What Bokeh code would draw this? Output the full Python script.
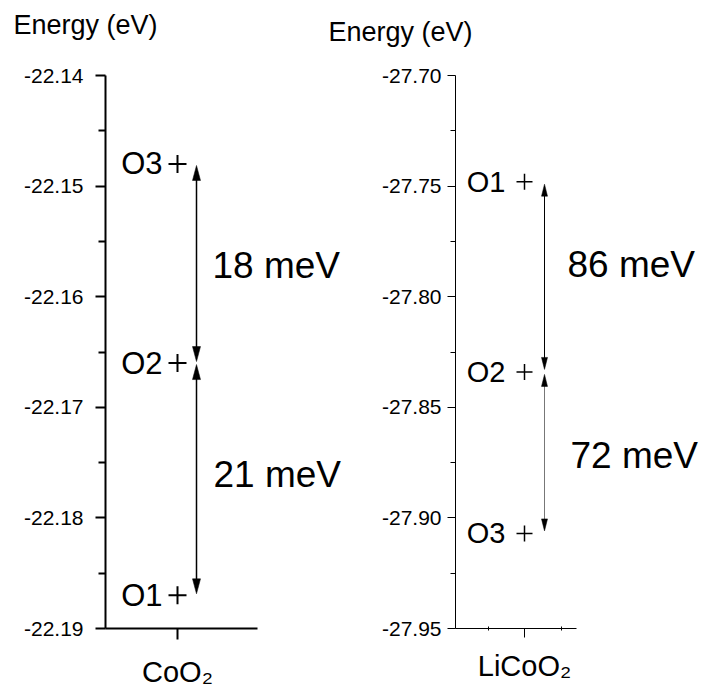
from bokeh.plotting import figure
from bokeh.models import FixedTicker, Range1d, PrintfTickFormatter
from bokeh.layouts import row, column
from bokeh.embed import file_html
from bokeh.resources import INLINE
from bokeh.core.properties import value

FONT = "Liberation Sans"

# ---------------- data ----------------
y_title = "Energy (eV)"
compounds = ["CoO\u2082", "LiCoO\u2082"]

names_coo2 = ["O3", "O2", "O1"]
levels_coo2 = [-22.148, -22.166, -22.187]
gaps_coo2 = ["18 meV", "21 meV"]
yticks_coo2 = [-22.19, -22.18, -22.17, -22.16, -22.15, -22.14]
yminor_coo2 = [-22.185, -22.175, -22.165, -22.155, -22.145]

names_licoo2 = ["O1", "O2", "O3"]
levels_licoo2 = [-27.748, -27.834, -27.907]
gaps_licoo2 = ["86 meV", "72 meV"]
yticks_licoo2 = [-27.95, -27.90, -27.85, -27.80, -27.75, -27.70]
yminor_licoo2 = [-27.925, -27.875, -27.825, -27.775, -27.725]

TOTAL_H = 690
STRIP_H = 48          # height of the strip that holds the axis titles
FRAME_BOTTOM = 628    # page row of the x axis
AXIS_TOP = 75         # page row of the highest y tick
H = TOTAL_H - STRIP_H


def title_strip(width, offset, standoff):
    t = figure(width=width, height=STRIP_H, output_backend="svg",
               toolbar_location=None, x_axis_type=None, y_axis_type=None,
               min_border_left=0, min_border_right=0,
               min_border_top=STRIP_H - 1, min_border_bottom=0)
    t.outline_line_color = None
    t.xgrid.visible = False
    t.ygrid.visible = False
    t.title.text = y_title
    t.title.align = "left"
    t.title.vertical_align = "bottom"
    t.title.offset = offset
    t.title.standoff = standoff
    t.title.text_font = FONT
    t.title.text_font_size = "27px"
    t.title.text_font_style = "normal"
    t.title.text_color = "black"
    return t


def panel(label, names, levels, gaps, yticks, yminor, st):
    W = st["W"]
    fl = st["frame_left"] - st["origin"]       # frame left inside figure
    kx = st["kx"]
    ky = (FRAME_BOTTOM - AXIS_TOP) / (yticks[-1] - yticks[0])
    px = lambda v: v / kx
    py = lambda v: v / ky

    x0r = 1 - px(st["cat_px"] - st["frame_left"])
    x1r = x0r + px(W - fl)
    y0r = yticks[0]
    y1r = y0r + py(FRAME_BOTTOM - STRIP_H)

    p = figure(width=W, height=H, output_backend="svg", toolbar_location=None,
               title=None,
               x_range=Range1d(x0r, x1r), y_range=Range1d(y0r, y1r),
               min_border_left=fl, min_border_right=0,
               min_border_top=0, min_border_bottom=TOTAL_H - FRAME_BOTTOM)
    p.outline_line_color = None
    p.xgrid.visible = False
    p.ygrid.visible = False

    lw = st["lw"]
    # y axis
    ya = p.yaxis[0]
    ya.bounds = (yticks[0], yticks[-1])
    ya.ticker = FixedTicker(ticks=yticks, minor_ticks=yminor)
    ya.formatter = PrintfTickFormatter(format="%.2f")
    ya.axis_line_width = lw
    ya.major_tick_line_width = lw
    ya.minor_tick_line_width = lw
    ya.major_tick_out = st["tick"]
    ya.major_tick_in = 0
    ya.minor_tick_out = st["mtick"]
    ya.minor_tick_in = 0
    ya.major_label_text_font = FONT
    ya.major_label_text_font_size = "21px"
    ya.major_label_text_color = "black"
    ya.major_label_standoff = st["standoff"]

    # x axis
    xa = p.xaxis[0]
    xa.bounds = (x0r, 1 + px(st["axis_end_px"] - st["cat_px"]))
    xa.ticker = FixedTicker(ticks=[1], minor_ticks=st["xminor"])
    xa.major_label_overrides = {1: label}
    xa.axis_line_width = lw
    xa.major_tick_line_width = lw
    xa.minor_tick_line_width = 1
    xa.major_tick_out = st["tick"] + 1
    xa.major_tick_in = 0
    xa.minor_tick_out = 2
    xa.minor_tick_in = 2
    xa.major_label_text_font = FONT
    xa.major_label_text_font_size = "29px"
    xa.major_label_text_color = "black"
    xa.major_label_standoff = st["xstandoff"]

    # levels
    cx = [1] * len(levels)
    p.scatter(x=cx, y=levels, marker="cross", size=st["msize"],
              line_width=st["mlw"], color="black")
    p.text(x=cx, y=levels, text=names, x_offset=st["name_dx"],
           text_align="right", text_baseline="middle",
           text_font=value(FONT), text_font_size=st["name_fs"],
           text_color="black")

    # double arrows between consecutive levels
    ax = 1 + px(st["arrow_dx"])
    hl, hw, g = st["head_len"], st["head_w"], st["gap"]
    sx0, sy0, sx1, sy1, hx, hy = [], [], [], [], [], []
    lab_x, lab_y = [], []
    for i in range(len(levels) - 1):
        up = max(levels[i], levels[i + 1])
        lo = min(levels[i], levels[i + 1])
        t = up - py(g)
        b = lo + py(g)
        sx0.append(ax); sy0.append(t - py(hl * 0.5))
        sx1.append(ax); sy1.append(b + py(hl * 0.5))
        hx.append([ax, ax - px(hw / 2), ax + px(hw / 2)])
        hy.append([t, t - py(hl), t - py(hl)])
        hx.append([ax, ax - px(hw / 2), ax + px(hw / 2)])
        hy.append([b, b + py(hl), b + py(hl)])
        mid = (up + lo) / 2
        lab_x.append(ax + px(st["gap_dx"][i]))
        lab_y.append(mid - py(st["gap_dy"][i]))
    p.segment(x0=sx0, y0=sy0, x1=sx1, y1=sy1, line_color=st["shaft_colors"],
              line_width=st["shaft_lw"])
    p.patches(xs=hx, ys=hy, fill_color="black", line_color="black",
              line_width=0.5)

    p.text(x=lab_x, y=lab_y, text=gaps, text_align="left",
           text_baseline="middle", text_font=value(FONT),
           text_font_size="37px", text_color="black")
    return p


left_style = dict(W=368, origin=0, frame_left=105, kx=72.4,
                  cat_px=177, axis_end_px=257, lw=2, tick=10, mtick=7,
                  standoff=12, xstandoff=16, xminor=[], msize=18, mlw=2,
                  name_dx=-15, name_fs="31px", arrow_dx=19, head_len=15,
                  head_w=8, gap=1.5, shaft_colors=["black", "black"],
                  shaft_lw=1.5, gap_dx=[16, 17], gap_dy=[2, -4.5])
right_style = dict(W=334, origin=368, frame_left=455, kx=73.0,
                   cat_px=524, axis_end_px=576, lw=1, tick=8, mtick=5,
                   standoff=6, xstandoff=12, xminor=[0.5, 1.5], msize=16,
                   mlw=1.5, name_dx=-19, name_fs="29px", arrow_dx=20,
                   head_len=12, head_w=6, gap=2.5,
                   shaft_colors=["black", "#777777"], shaft_lw=1,
                   gap_dx=[23, 26], gap_dy=[-12, 2.5])

STRIP_SPLIT = 300
t1 = title_strip(STRIP_SPLIT, 13, 17)
t2 = title_strip(702 - STRIP_SPLIT, 328 - STRIP_SPLIT, 3)

p1 = panel(compounds[0], names_coo2, levels_coo2, gaps_coo2,
           yticks_coo2, yminor_coo2, left_style)
p2 = panel(compounds[1], names_licoo2, levels_licoo2, gaps_licoo2,
           yticks_licoo2, yminor_licoo2, right_style)

layout = column(row(t1, t2), row(p1, p2))
open("out.html", "w").write(file_html(layout, INLINE))
